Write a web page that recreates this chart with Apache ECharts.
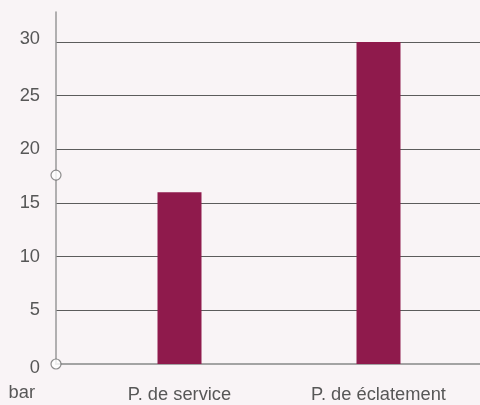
<!DOCTYPE html>
<html>
<head>
<meta charset="utf-8">
<script src="https://cdn.jsdelivr.net/npm/echarts@6/dist/echarts.min.js"></script>
<style>
html,body{margin:0;padding:0;background:#f9f4f6;}
#chart{width:480px;height:405px;}
</style>
</head>
<body>
<div id="chart"></div>
<script>
var categories = ['P. de service', 'P. de éclatement'];
var values = [16, 30];
var axisMarkers = [0, 17.6];
var yTicks = [0, 5, 10, 15, 20, 25, 30];
var yMax = 32.8;
var unit = 'bar';

var chart = echarts.init(document.getElementById('chart'), null, {renderer: 'canvas'});
var font = 'Liberation Sans, Arial, sans-serif';
var txt = '#575757';
var option = {
  backgroundColor: '#f9f4f6',
  animation: false,
  grid: [
    {left: 56, right: 0, top: 12, bottom: 41},
    {left: 80, right: 2, top: 12, bottom: 41}
  ],
  xAxis: [
    {gridIndex: 0, type: 'value', min: 0, max: 1,
     axisLine: {show: true, onZero: false, lineStyle: {color: '#a3a3a3', width: 2}},
     axisTick: {show: false}, axisLabel: {show: false}, splitLine: {show: false}},
    {gridIndex: 1, type: 'category', data: categories,
     axisLine: {show: false}, axisTick: {show: false},
     axisLabel: {margin: 22, color: txt, fontSize: 18.3, fontFamily: font}}
  ],
  yAxis: [
    {gridIndex: 0, type: 'value', min: 0, max: yMax, interval: 5,
     name: unit, nameLocation: 'start', nameGap: 20,
     nameTextStyle: {color: txt, fontSize: 18.3, fontFamily: font, align: 'right', verticalAlign: 'top', padding: [0, 21, 0, 0]},
     axisLine: {show: true, lineStyle: {color: '#999999', width: 1.5}},
     axisTick: {show: false},
     axisLabel: {margin: 16, color: txt, fontSize: 18.3, fontFamily: font, showMaxLabel: false,
       formatter: function (v) {
         if (yTicks.indexOf(v) < 0) return '';
         if (v === 0) return '{lo|' + v + '}';
         if (v === 30) return '{hi|' + v + '}';
         return String(v);
       },
       rich: {
         lo: {color: txt, fontSize: 18.3, fontFamily: font, padding: [7, 0, 0, 0]},
         hi: {color: txt, fontSize: 18.3, fontFamily: font, padding: [0, 0, 6, 0]}
       }},
     splitLine: {show: true, showMinLine: false, showMaxLine: false, lineStyle: {color: '#5c5c5c', width: 1}}},
    {gridIndex: 1, type: 'value', min: 0, max: yMax, interval: 5, show: false, splitLine: {show: false}}
  ],
  series: [
    {type: 'bar', xAxisIndex: 1, yAxisIndex: 1, data: values, barWidth: 44,
     itemStyle: {color: '#8f1a4c'}},
    {type: 'scatter', xAxisIndex: 0, yAxisIndex: 0, z: 5,
     data: axisMarkers.map(function (v) { return [0, v]; }),
     symbol: 'circle', symbolSize: 10,
     itemStyle: {color: '#ffffff', borderColor: '#707070', borderWidth: 1.2}}
  ]
};
chart.setOption(option);
</script>
</body>
</html>
